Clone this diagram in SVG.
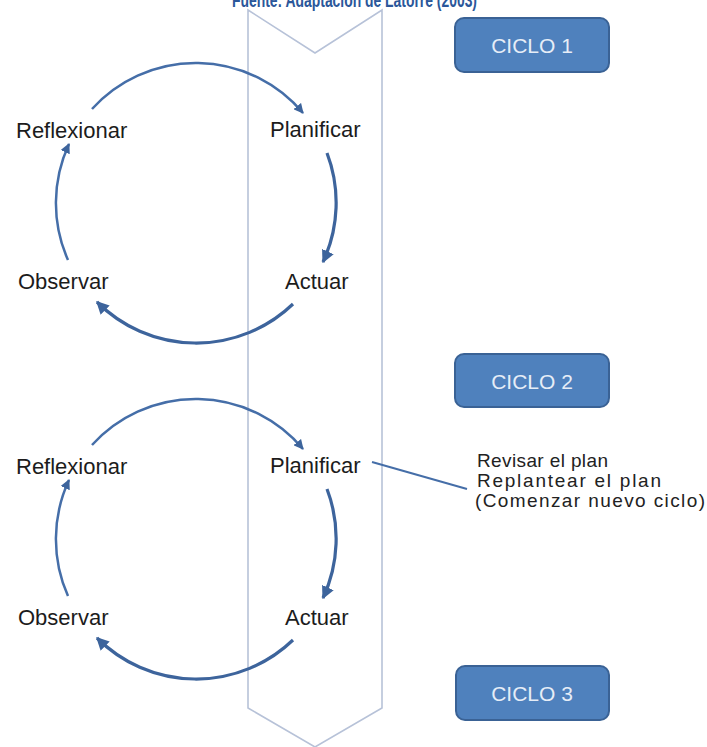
<svg xmlns="http://www.w3.org/2000/svg" width="707" height="747" viewBox="0 0 707 747">
  <style>
    .title { font-family: "Liberation Sans", Arial, sans-serif; font-weight: bold; font-size: 20px; fill: #2b579a; }
    .step { font-family: "Liberation Sans", Arial, sans-serif; font-size: 22px; fill: #1c1c1c; }
    .note { font-family: "Liberation Sans", Arial, sans-serif; font-size: 19px; fill: #222222; }
    .cycle-box { fill: #4f81bd; stroke: #3a6295; stroke-width: 2; }
    .cycle-text { font-family: "Liberation Sans", Arial, sans-serif; font-size: 21px; fill: #e6edf7; text-anchor: middle; }
    .arc { fill: none; stroke: #456ea8; stroke-width: 2.5; marker-end: url(#head); }
    .arc-bold { fill: none; stroke: #3d649c; stroke-width: 3.2; marker-end: url(#head); }
    .band { fill: #ffffff; stroke: #b7c2d8; stroke-width: 1.6; }
    .link { fill: none; stroke: #456ea8; stroke-width: 2; }
  </style>
  <defs>
    <marker id="head" viewBox="0 0 10 10" refX="9" refY="5" markerWidth="4" markerHeight="4" markerUnits="strokeWidth" orient="auto">
      <path d="M0,0 L10,5 L0,10 z" fill="#3d649c"/>
    </marker>
  </defs>

  <rect width="707" height="747" fill="#ffffff"/>

  <!-- source caption, clipped by the top edge -->
  <text class="title" x="232" y="7" textLength="245" lengthAdjust="spacingAndGlyphs">Fuente: Adaptación de Latorre (2003)</text>

  <!-- vertical chevron band -->
  <polygon id="band" class="band" points="248,10 315,53 382,10 382,708 315,747 248,708"/>

  <!-- cycle arrows -->
  <g id="connectors">
    <!-- cycle 1 -->
    <path class="arc" d="M92,109 A140,140 0 0 1 303,113"/>
    <path class="arc-bold" d="M327,153 A140,140 0 0 1 323,262"/>
    <path class="arc-bold" d="M293,304 A140,140 0 0 1 97,302"/>
    <path class="arc" d="M68,260 A140,140 0 0 1 69,144"/>
    <!-- cycle 2 -->
    <path class="arc" d="M92,445 A140,140 0 0 1 303,449"/>
    <path class="arc-bold" d="M327,489 A140,140 0 0 1 323,598"/>
    <path class="arc-bold" d="M293,640 A140,140 0 0 1 97,638"/>
    <path class="arc" d="M68,596 A140,140 0 0 1 69,480"/>
    <!-- note link -->
    <path class="link" d="M372,462 L467,489"/>
  </g>

  <!-- cycle 1 steps -->
  <g id="c1-reflexionar"><text class="step" x="16" y="138">Reflexionar</text></g>
  <g id="c1-planificar"><text class="step" x="270" y="137">Planificar</text></g>
  <g id="c1-observar"><text class="step" x="18" y="289">Observar</text></g>
  <g id="c1-actuar"><text class="step" x="285" y="289">Actuar</text></g>

  <!-- cycle 2 steps -->
  <g id="c2-reflexionar"><text class="step" x="16" y="474">Reflexionar</text></g>
  <g id="c2-planificar"><text class="step" x="270" y="473">Planificar</text></g>
  <g id="c2-observar"><text class="step" x="18" y="625">Observar</text></g>
  <g id="c2-actuar"><text class="step" x="285" y="625">Actuar</text></g>

  <!-- planning note -->
  <g id="note">
    <text class="note" x="477" y="467" textLength="131" lengthAdjust="spacing">Revisar el plan</text>
    <text class="note" x="477" y="487" textLength="184" lengthAdjust="spacing">Replantear el plan</text>
    <text class="note" x="475" y="507" textLength="230" lengthAdjust="spacing">(Comenzar nuevo ciclo)</text>
  </g>

  <!-- cycle labels -->
  <g id="ciclo-1">
    <rect class="cycle-box" x="455" y="18" width="154" height="54" rx="9"/>
    <text class="cycle-text" x="532" y="53">CICLO 1</text>
  </g>
  <g id="ciclo-2">
    <rect class="cycle-box" x="455" y="354" width="154" height="53" rx="9"/>
    <text class="cycle-text" x="532" y="389">CICLO 2</text>
  </g>
  <g id="ciclo-3">
    <rect class="cycle-box" x="456" y="666" width="153" height="54" rx="9"/>
    <text class="cycle-text" x="532" y="701">CICLO 3</text>
  </g>
</svg>
